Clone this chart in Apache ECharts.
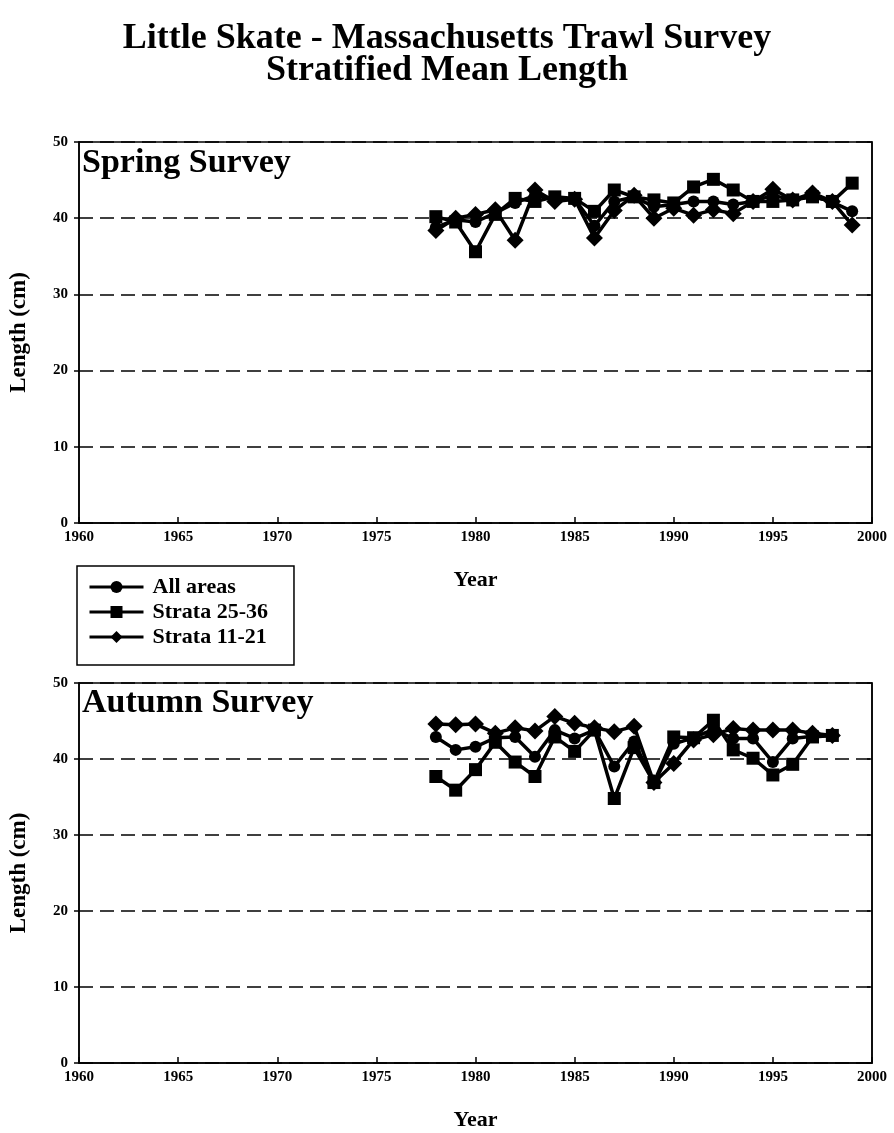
<!DOCTYPE html>
<html>
<head>
<meta charset="utf-8">
<script src="https://cdn.jsdelivr.net/npm/echarts@6/dist/echarts.min.js"></script>
<style>
html,body{margin:0;padding:0;background:#fff;}
#main{width:894px;height:1133px;}
</style>
</head>
<body>
<div id="main"></div>
<script>
var springYears = [1978,1979,1980,1981,1982,1983,1984,1985,1986,1987,1988,1989,1990,1991,1992,1993,1994,1995,1996,1997,1998,1999];
var springAll   = [38.8,39.8,39.5,40.7,42.0,43.0,42.5,42.5,39.0,42.2,42.8,41.5,41.8,42.2,42.2,41.8,42.2,43.0,42.4,42.9,42.1,40.9];
var springS2536 = [40.2,39.5,35.6,40.5,42.6,42.2,42.8,42.6,40.9,43.7,42.8,42.4,42.0,44.1,45.1,43.7,42.2,42.2,42.4,42.8,42.2,44.6];
var springS1121 = [38.4,40.0,40.5,41.1,37.1,43.7,42.2,42.5,37.4,41.0,43.0,40.0,41.3,40.4,41.1,40.6,42.2,43.8,42.4,43.3,42.2,39.1];

var autumnYears = [1978,1979,1980,1981,1982,1983,1984,1985,1986,1987,1988,1989,1990,1991,1992,1993,1994,1995,1996,1997,1998];
var autumnAll   = [42.9,41.2,41.6,42.8,42.9,40.3,43.8,42.7,43.8,39.0,42.3,36.8,42.0,42.8,43.9,42.7,42.7,39.6,42.7,43.0,43.1];
var autumnS2536 = [37.7,35.9,38.6,42.2,39.6,37.7,42.9,41.0,43.8,34.8,41.5,36.9,42.9,42.8,45.1,41.2,40.1,37.9,39.3,42.9,43.1];
var autumnS1121 = [44.6,44.5,44.6,43.4,44.1,43.7,45.6,44.7,44.1,43.6,44.3,36.9,39.4,42.5,43.2,44.0,43.8,43.8,43.8,43.4,43.1];

var seriesNames = ['All areas','Strata 25-36','Strata 11-21'];
var symbols = ['circle','rect','diamond'];
var symbolSizes = [12,13,17];

function pairs(xs, ys){ return xs.map(function(x,i){ return [x, ys[i]]; }); }

var FONT = '"Liberation Serif","Times New Roman",serif';
var lbl = {color:'#000', fontFamily:FONT, fontWeight:'bold', fontSize:15};

function xAxisFor(gi){
  return {
    type:'value', gridIndex:gi, min:1960, max:2000, interval:5,
    name:'Year', nameLocation:'middle', nameGap:46,
    nameTextStyle:{color:'#000', fontFamily:FONT, fontWeight:'bold', fontSize:22},
    axisLine:{show:true, lineStyle:{color:'#000', width:1.5}},
    axisTick:{show:true, inside:true, length:6, lineStyle:{color:'#000', width:1.5}},
    axisLabel:Object.assign({margin:7, formatter:function(v){return String(v);}}, lbl),
    splitLine:{show:false}
  };
}
function yAxisFor(gi, main){
  return {
    type:'value', gridIndex:gi, min:0, max:50, interval:10,
    name: main ? 'Length (cm)' : '', nameLocation:'middle', nameGap:48,
    nameTextStyle:{color:'#000', fontFamily:FONT, fontWeight:'bold', fontSize:23},
    axisLine:{show:true, lineStyle:{color:'#000', width:1.5}},
    axisTick:{show:true, inside:!main, length:5, lineStyle:{color:'#000', width:1.5}},
    axisLabel: main ? Object.assign({margin:11}, lbl) : {show:false},
    splitLine: main ? {show:true, lineStyle:{color:'#000', width:1.5, type:[14,7]}} : {show:false}
  };
}

function makeSeries(gi, years, arrs){
  return arrs.map(function(arr, i){
    return {
      name: seriesNames[i], type:'line', xAxisIndex:gi, yAxisIndex:gi*2,
      data: pairs(years, arr),
      symbol: symbols[i], symbolSize: symbolSizes[i],
      lineStyle:{color:'#000', width:3.5},
      itemStyle:{color:'#000'},
      animation:false, z: 3 - i
    };
  });
}

var series = [].concat(
  makeSeries(0, springYears, [springAll, springS2536, springS1121]),
  makeSeries(1, autumnYears, [autumnAll, autumnS2536, autumnS1121])
);

var option = {
  backgroundColor:'#fff',
  animation:false,
  title:{
    text:'Little Skate - Massachusetts Trawl Survey\nStratified Mean Length',
    left:'center', top:18,
    textStyle:{color:'#000', fontFamily:FONT, fontWeight:'bold', fontSize:36, lineHeight:32}
  },
  grid:[
    {left:77, right:22, top:142, height:381, show:true, borderColor:'#000', borderWidth:1.5},
    {left:77, right:22, top:683, height:380, show:true, borderColor:'#000', borderWidth:1.5}
  ],
  xAxis:[xAxisFor(0), xAxisFor(1)],
  yAxis:[yAxisFor(0,true), yAxisFor(0,false), yAxisFor(1,true), yAxisFor(1,false)],
  legend:{
    data: seriesNames,
    orient:'vertical', left:77, top:566,
    padding:[10,26,17,11], itemGap:3,
    itemWidth:54, itemHeight:15,
    borderColor:'#000', borderWidth:1.5,
    lineStyle:{width:3, color:'#000'},
    textStyle:{color:'#000', fontFamily:FONT, fontWeight:'bold', fontSize:22, padding:[0,0,0,4]},
    selectedMode:false
  },
  graphic:[
    {type:'text', left:82, top:146, style:{text:'Spring Survey', fill:'#000', font:'bold 34px ' + FONT}},
    {type:'text', left:82, top:686, style:{text:'Autumn Survey', fill:'#000', font:'bold 34px ' + FONT}}
  ],
  series: series
};

var chart = echarts.init(document.getElementById('main'), null, {renderer:'canvas'});
chart.setOption(option);
</script>
</body>
</html>
